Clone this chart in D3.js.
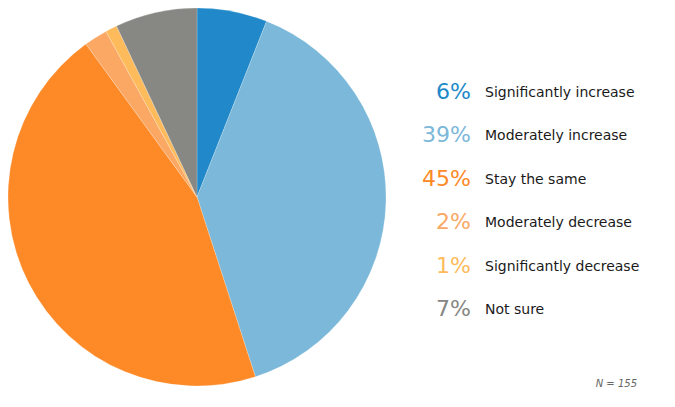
<!DOCTYPE html>
<html><head><meta charset="utf-8">
<script src="https://cdn.jsdelivr.net/npm/d3@7"></script>
<style>html,body{margin:0;padding:0;background:#fff;}svg{display:block;}</style>
</head><body>
<svg id="chart" width="675" height="407"></svg>
<script>
const categories = ["Significantly increase","Moderately increase","Stay the same","Moderately decrease","Significantly decrease","Not sure"];
const values = [6, 39, 45, 2, 1, 7];
const percentLabels = ["6%","39%","45%","2%","1%","7%"];
const colors = ["#2189c9","#7bb8d9","#fd8a27","#fba864","#fdbb5c","#878783"];
const note = "N = 155";

const svg = d3.select("#chart");
const cx = 197, cy = 197, r = 189;

const pie = d3.pie().sort(null).value(d => d)(values);
const arc = d3.arc().innerRadius(0).outerRadius(r);

svg.append("g").attr("transform", `translate(${cx},${cy})`)
  .selectAll("path").data(pie).join("path")
  .attr("d", arc)
  .attr("fill", (d, i) => colors[i])
  .attr("stroke", "#fff").attr("stroke-width", 0.4).attr("stroke-opacity", 0.5);

const y = d3.scaleBand().domain(d3.range(categories.length)).range([71, 332]);
const leg = svg.append("g").attr("font-family", "DejaVu Sans, Verdana, sans-serif");
const rows = leg.selectAll("g").data(categories).join("g")
  .attr("transform", (d, i) => `translate(0,${y(i) + y.bandwidth() / 2})`);
rows.append("text")
  .attr("x", 471).attr("y", 0)
  .attr("text-anchor", "end").attr("dominant-baseline", "middle")
  .attr("font-size", 22)
  .attr("fill", (d, i) => colors[i])
  .text((d, i) => percentLabels[i]);
rows.append("text")
  .attr("x", 485).attr("y", 0)
  .attr("dominant-baseline", "middle")
  .attr("font-size", 14)
  .attr("fill", "#1a1a1a")
  .text(d => d);

svg.append("text")
  .attr("x", 637).attr("y", 387)
  .attr("text-anchor", "end")
  .attr("font-family", "DejaVu Sans, Verdana, sans-serif")
  .attr("font-size", 10).attr("font-style", "italic")
  .attr("fill", "#666")
  .text(note);
</script>
</body></html>
